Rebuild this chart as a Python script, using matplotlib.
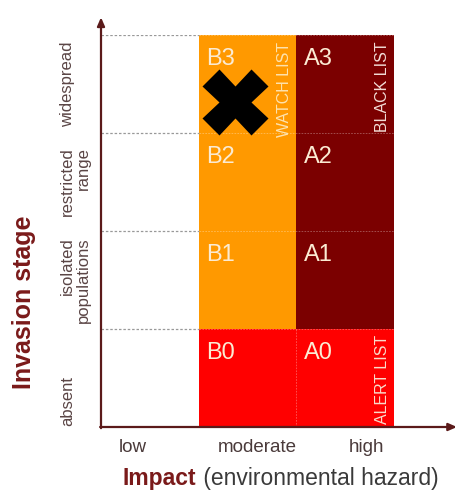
import matplotlib.pyplot as plt
from matplotlib.patches import Rectangle

plt.rcParams['font.family'] = ['Liberation Sans', 'DejaVu Sans']

# data
impact = ["low", "moderate", "high"]
stages = ["absent", "isolated\npopulations", "restricted\nrange", "widespread"]
codes = {"moderate": ["B0", "B1", "B2", "B3"],
         "high": ["A0", "A1", "A2", "A3"]}
cell_colors = {"moderate": ["#FF0000", "#FF9900", "#FF9900", "#FF9900"],
               "high": ["#FF0000", "#7B0000", "#7B0000", "#7B0000"]}
lists = [("WATCH LIST", "moderate", "widespread"),
         ("BLACK LIST", "high", "widespread"),
         ("ALERT LIST", "high", "absent")]
assessed = ("moderate", "widespread")

axis_col = "#5B1A1A"
label_col = "#7A1A1A"

fig = plt.figure(figsize=(4.56, 4.91), dpi=100)
ax = fig.add_axes([101 / 456, 1 - 427 / 491, 293 / 456, 392 / 491])
ax.set_xlim(0, 3)
ax.set_ylim(0, 4)

# coloured cells
for col, name in enumerate(impact):
    if name not in codes:
        continue
    for row, stage in enumerate(stages):
        ax.add_patch(Rectangle((col, row), 1, 1, facecolor=cell_colors[name][row],
                               edgecolor="none", zorder=1))
        ax.text(col + 0.08, row + 0.87, codes[name][row], color="#FBEBD3",
                fontsize=17, ha="left", va="top", zorder=3)

# dashed grid
for row in range(1, 5):
    ax.plot([0, 1], [row, row], ls=(0, (2, 1.5)), color="#999999", lw=0.9, zorder=2)
    ax.plot([1, 3], [row, row], ls=(0, (2, 1.5)), color="#FFFFFF", lw=0.6,
            alpha=0.35, zorder=2)
ax.plot([2, 2], [0, 1], ls=(0, (2, 1.5)), color="#FFFFFF", lw=0.6, alpha=0.35, zorder=2)

# list labels
list_colors = {"WATCH LIST": "#FDE2AE", "BLACK LIST": "#F2DCD6", "ALERT LIST": "#F9DCCB"}
for text, name, stage in lists:
    col = impact.index(name)
    row = stages.index(stage)
    if row == len(stages) - 1:
        ax.text(col + 0.88, row + 0.93, text, rotation=90, ha="center", va="top",
                fontsize=11.5, color=list_colors[text], zorder=3)
    else:
        ax.text(col + 0.88, row + 0.03, text, rotation=90, ha="center", va="bottom",
                fontsize=11.5, color=list_colors[text], zorder=3)

# assessed cell marker
ax.plot(impact.index(assessed[0]) + 0.37, stages.index(assessed[1]) + 0.32,
        marker="X", ms=47, color="black", mec="none", zorder=4)

# axes with arrows
for s in ax.spines.values():
    s.set_visible(False)
ax.annotate("", xy=(0, 1.045), xytext=(0, -0.003), xycoords="axes fraction",
            arrowprops=dict(arrowstyle="-|>,head_length=0.5,head_width=0.22",
                            color=axis_col, lw=1.6, shrinkA=0, shrinkB=0))
ax.annotate("", xy=(1.215, 0), xytext=(-0.003, 0), xycoords="axes fraction",
            arrowprops=dict(arrowstyle="-|>,head_length=0.5,head_width=0.22",
                            color=axis_col, lw=1.6, shrinkA=0, shrinkB=0))

# ticks
ax.set_xticks([0.32, 1.6, 2.72])
ax.set_xticklabels(impact, fontsize=13.5, color="#4A3A3A")
ax.set_yticks([0.27, 1.5, 2.5, 3.5])
ylabels = [s if "\n" in s else s + "\n " for s in stages]
ax.set_yticklabels(ylabels, fontsize=12, color="#5A4545", rotation=90,
                   va="center", ha="right", linespacing=1.1)
ax.tick_params(length=0, pad=7)
ax.tick_params(axis="x", pad=9)

# axis titles
t = fig.text(123 / 456, 1 - 478 / 491, "Impact", ha="left", va="center",
             fontsize=16.5, color=label_col, fontweight="bold")
ax.annotate(" (environmental hazard)", xy=(1, 0), xycoords=t, ha="left", va="bottom",
            fontsize=16.5, color="#3A3A3A")
fig.text(24 / 456, 1 - 302 / 491, "Invasion stage", rotation=90, ha="center",
         va="center", fontsize=18, color=label_col, fontweight="bold")

fig.savefig("out.png", dpi=100)
